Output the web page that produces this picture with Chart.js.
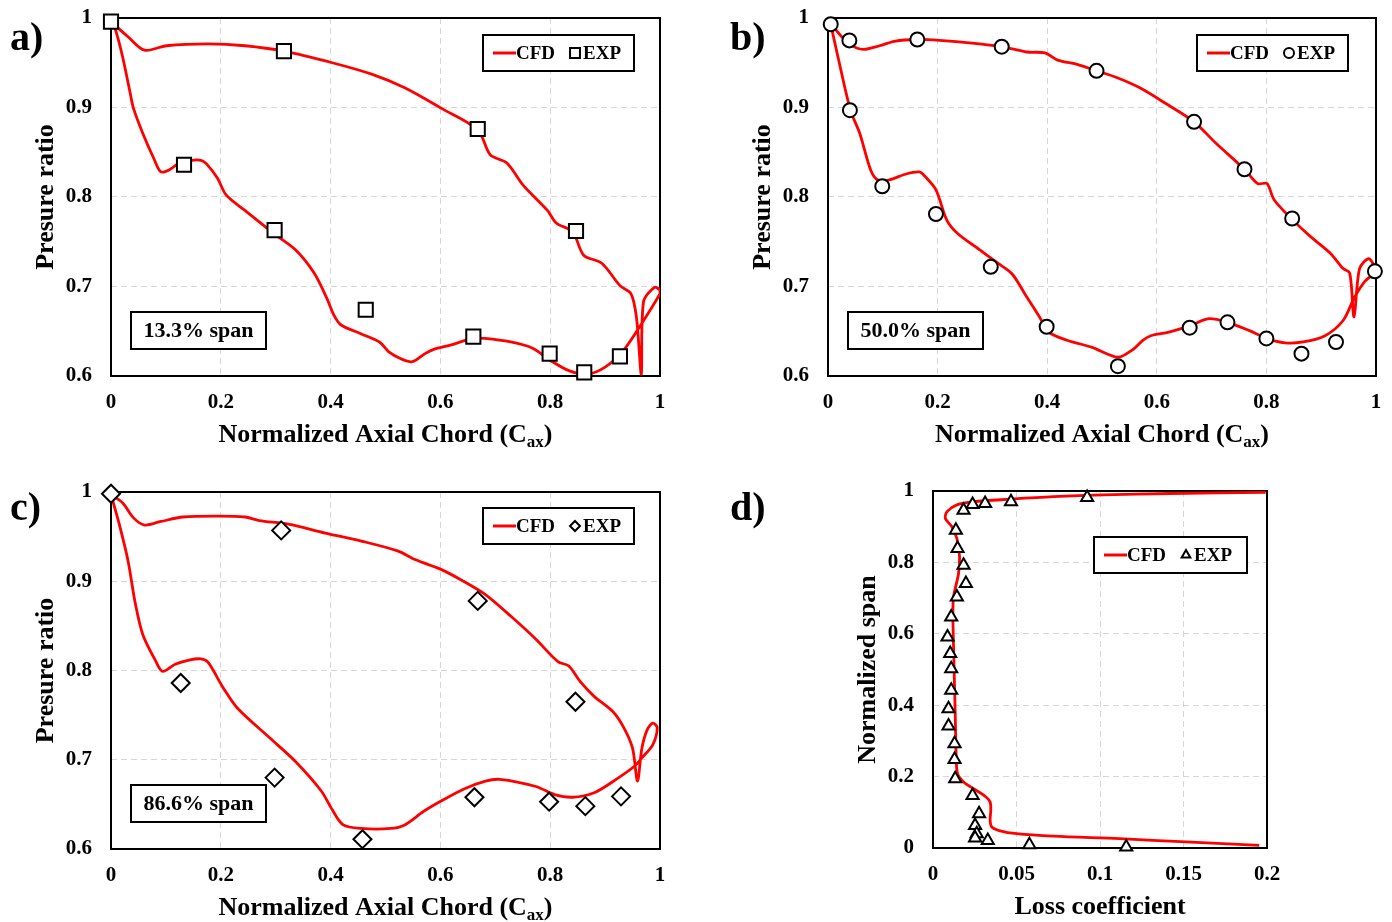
<!DOCTYPE html>
<html lang="en">
<head>
  <meta charset="UTF-8">
  <title>Blade loading and loss</title>
  <script src="https://cdn.jsdelivr.net/npm/chart.js"></script>
  <style>
    body { margin:0; background:#fff; }
    .page { position:relative; width:1392px; height:922px; overflow:hidden; }
    canvas { position:absolute; }
  </style>
</head>
<body>
  <div class="page">
    <canvas id="pa" width="696" height="461" style="left:0;top:0"></canvas>
    <canvas id="pb" width="696" height="461" style="left:696px;top:0"></canvas>
    <canvas id="pc" width="696" height="461" style="left:0;top:461px"></canvas>
    <canvas id="pd" width="696" height="461" style="left:696px;top:461px"></canvas>
  </div>

  <script>
    const FONT='"Liberation Serif", "Times New Roman", serif';

    // tick labels
    const chordTicks=[0,0.2,0.4,0.6,0.8,1];
    const ratioTicks=[0.6,0.7,0.8,0.9,1];
    const lossTicks=[0,0.05,0.1,0.15,0.2];
    const spanTicks=[0,0.2,0.4,0.6,0.8,1];

    // a) 13.3% span
    const expAx=[0,0.315,0.668,0.133,0.298,0.847,0.464,0.660,0.799,0.862,0.927];
    const expAy=[0.996,0.963,0.876,0.836,0.763,0.762,0.674,0.644,0.625,0.604,0.622];
    const cfdA_ps=[[0,0.996],[0.031,0.979],[0.061,0.964],[0.101,0.969],[0.177,0.971],[0.244,0.969],[0.315,0.963],
      [0.403,0.950],[0.476,0.937],[0.535,0.922],[0.602,0.899],[0.668,0.875],[0.691,0.847],[0.721,0.838],
      [0.751,0.813],[0.795,0.785],[0.811,0.771],[0.841,0.761],[0.861,0.735],[0.894,0.726],[0.927,0.701],
      [0.947,0.692],[0.957,0.666],[0.966,0.602],[0.970,0.683],[0.990,0.699],[1.0,0.696]];
    const cfdA_ss=[[1.0,0.692],[0.967,0.659],[0.934,0.629],[0.900,0.610],[0.867,0.602],[0.834,0.606],[0.799,0.618],
      [0.768,0.631],[0.728,0.638],[0.681,0.642],[0.660,0.642],[0.615,0.634],[0.589,0.630],[0.572,0.625],
      [0.549,0.616],[0.529,0.619],[0.506,0.627],[0.489,0.638],[0.456,0.647],[0.419,0.657],[0.406,0.668],
      [0.393,0.687],[0.370,0.715],[0.336,0.741],[0.297,0.759],[0.244,0.785],[0.210,0.802],[0.194,0.821],
      [0.174,0.837],[0.164,0.841],[0.147,0.841],[0.124,0.838],[0.108,0.831],[0.091,0.828],[0.078,0.843],
      [0.058,0.871],[0.041,0.899],[0.035,0.916],[0.021,0.957],[0.008,0.987],[0,0.996]];

    // b) 50.0% span
    const expBx=[0.005,0.039,0.163,0.317,0.490,0.040,0.668,0.760,0.099,0.847,0.197,0.297,0.998,0.399,0.660,0.729,0.800,0.927,0.864,0.529];
    const expBy=[0.993,0.975,0.976,0.968,0.941,0.897,0.884,0.831,0.812,0.776,0.781,0.722,0.717,0.655,0.654,0.660,0.642,0.638,0.625,0.611];
    const cfdB_ps=[[0.005,0.994],[0.025,0.979],[0.041,0.970],[0.064,0.965],[0.094,0.969],[0.121,0.974],[0.163,0.976],
      [0.204,0.975],[0.263,0.972],[0.317,0.968],[0.363,0.962],[0.396,0.961],[0.419,0.953],[0.456,0.948],
      [0.490,0.941],[0.529,0.933],[0.569,0.922],[0.615,0.905],[0.668,0.884],[0.708,0.860],[0.760,0.831],
      [0.784,0.815],[0.801,0.815],[0.814,0.797],[0.847,0.775],[0.880,0.756],[0.917,0.737],[0.940,0.720],
      [0.952,0.715],[0.960,0.666],[0.970,0.720],[0.987,0.731],[1.0,0.719]];
    const cfdB_ss=[[1.0,0.716],[0.980,0.706],[0.960,0.687],[0.940,0.662],[0.907,0.645],[0.867,0.638],[0.834,0.637],
      [0.800,0.642],[0.768,0.651],[0.729,0.660],[0.695,0.664],[0.660,0.656],[0.622,0.649],[0.589,0.645],
      [0.575,0.640],[0.555,0.629],[0.529,0.621],[0.482,0.632],[0.436,0.640],[0.403,0.649],[0.386,0.666],
      [0.363,0.688],[0.336,0.714],[0.310,0.726],[0.277,0.741],[0.237,0.759],[0.217,0.774],[0.197,0.808],
      [0.177,0.823],[0.167,0.828],[0.144,0.826],[0.111,0.819],[0.091,0.819],[0.078,0.830],[0.058,0.871],
      [0.041,0.897],[0.018,0.957],[0.005,0.993]];

    // c) 86.6% span
    const expCx=[0,0.310,0.668,0.127,0.846,0.298,0.662,0.798,0.864,0.929,0.458];
    const expCy=[0.998,0.957,0.878,0.786,0.765,0.680,0.658,0.653,0.648,0.659,0.611];
    const cfdC_ps=[[0,0.997],[0.021,0.988],[0.041,0.971],[0.061,0.963],[0.091,0.967],[0.131,0.972],[0.197,0.973],
      [0.244,0.972],[0.270,0.968],[0.323,0.964],[0.390,0.954],[0.456,0.945],[0.522,0.934],[0.555,0.924],
      [0.602,0.913],[0.642,0.900],[0.682,0.885],[0.728,0.861],[0.774,0.835],[0.814,0.810],[0.834,0.805],
      [0.854,0.788],[0.880,0.771],[0.914,0.754],[0.934,0.736],[0.950,0.713],[0.959,0.676],[0.967,0.713],
      [0.977,0.734],[0.987,0.741],[0.995,0.736]];
    const cfdC_ss=[[0.987,0.717],[0.967,0.702],[0.954,0.693],[0.920,0.678],[0.880,0.663],[0.841,0.658],[0.808,0.661],
      [0.774,0.670],[0.708,0.678],[0.682,0.676],[0.642,0.667],[0.602,0.654],[0.569,0.642],[0.535,0.627],
      [0.509,0.623],[0.456,0.623],[0.423,0.627],[0.403,0.644],[0.383,0.665],[0.336,0.698],[0.290,0.724],
      [0.230,0.758],[0.204,0.781],[0.177,0.809],[0.164,0.813],[0.144,0.812],[0.117,0.807],[0.094,0.799],
      [0.081,0.811],[0.058,0.840],[0.044,0.876],[0.031,0.923],[0.015,0.964],[0,0.997]];

    // d) spanwise loss
    const expDloss=[0.0923,0.0467,0.0312,0.0237,0.0183,0.0137,0.0147,0.0183,0.0197,0.0143,0.0109,0.0087,0.0103,0.0109,
      0.0109,0.0093,0.0093,0.0129,0.0129,0.0133,0.0237,0.0276,0.0252,0.0262,0.0252,0.0328,0.0577,0.1157];
    const expDspan=[0.982,0.970,0.965,0.962,0.946,0.890,0.839,0.792,0.741,0.703,0.647,0.591,0.545,0.502,
      0.442,0.390,0.342,0.292,0.248,0.194,0.147,0.096,0.063,0.040,0.028,0.021,0.009,0.003];
    const cfdD=[[0.1953,0.0075],[0.1515,0.017],[0.1117,0.026],[0.072,0.033],[0.0501,0.040],[0.0402,0.048],[0.0352,0.059],
      [0.0342,0.078],[0.0346,0.106],[0.0342,0.129],[0.0312,0.145],[0.0243,0.166],[0.0183,0.185],[0.0147,0.208],
      [0.0139,0.255],[0.0133,0.377],[0.0123,0.564],[0.0119,0.657],[0.0123,0.704],[0.0153,0.769],[0.0159,0.816],
      [0.0143,0.867],[0.0113,0.900],[0.0074,0.923],[0.0084,0.942],[0.0143,0.961],[0.0243,0.970],[0.0461,0.977],
      [0.072,0.984],[0.1018,0.989],[0.1416,0.993],[0.1992,0.996]];

    function marker(ctx,style,x,y,r){
      ctx.save();
      ctx.fillStyle="#fff"; ctx.strokeStyle="#000"; ctx.lineWidth=2;
      ctx.beginPath();
      if(style==="rect"){ const s=r*Math.SQRT1_2; ctx.rect(x-s,y-s,2*s,2*s); }
      else if(style==="circle"){ ctx.arc(x,y,r,0,Math.PI*2); }
      else if(style==="rectRot"){ ctx.moveTo(x,y-r); ctx.lineTo(x+r,y); ctx.lineTo(x,y+r); ctx.lineTo(x-r,y); ctx.closePath(); }
      else { for(let k=0;k<3;k++){ const t=k*2*Math.PI/3; ctx[k?"lineTo":"moveTo"](x+Math.sin(t)*r,y-Math.cos(t)*r); } ctx.closePath(); }
      ctx.fill(); ctx.stroke();
      ctx.restore();
    }

    // frame, panel letter, x title, legend box, span box
    const deco={
      id:"deco",
      beforeDatasetsDraw(chart,args,o){
        const {ctx,chartArea:a}=chart;
        ctx.save(); ctx.strokeStyle="#000"; ctx.lineWidth=2;
        ctx.strokeRect(a.left,a.top,a.right-a.left,a.bottom-a.top);
        ctx.restore();
      },
      afterDraw(chart,args,o){
        const {ctx,chartArea:a}=chart;
        ctx.save();
        ctx.fillStyle="#000"; ctx.textBaseline="middle"; ctx.textAlign="left";
        // panel letter
        ctx.font="bold 40px "+FONT;
        ctx.fillText(o.letter,o.letterX,o.letterY);
        // x title (with optional subscript)
        const big="bold 26px "+FONT, small="bold 17px "+FONT;
        const ty=a.bottom+59;
        ctx.font=big; const w1=ctx.measureText(o.xTitle).width;
        let w2=0,w3=0;
        if(o.xSub){ ctx.font=small; w2=ctx.measureText(o.xSub).width; ctx.font=big; w3=ctx.measureText(")").width; }
        let x=(a.left+a.right)/2-(w1+w2+w3)/2;
        ctx.font=big; ctx.fillText(o.xTitle,x,ty); x+=w1;
        if(o.xSub){ ctx.font=small; ctx.fillText(o.xSub,x,ty+8); x+=w2; ctx.font=big; ctx.fillText(")",x,ty); }
        // legend
        const L=o.legend, lx=a.right-L.right-L.w, ly=a.top+L.top, cy=ly+L.h/2;
        ctx.fillStyle="#fff"; ctx.fillRect(lx,ly,L.w,L.h);
        ctx.strokeStyle="#000"; ctx.lineWidth=2; ctx.strokeRect(lx,ly,L.w,L.h);
        ctx.strokeStyle="#ff0000"; ctx.lineWidth=3;
        ctx.beginPath(); ctx.moveTo(lx+10,cy); ctx.lineTo(lx+33,cy); ctx.stroke();
        ctx.fillStyle="#000"; ctx.font="bold 19px "+FONT;
        ctx.fillText("CFD",lx+33,cy+1);
        marker(ctx,o.marker,lx+92,cy,o.marker==="rect"?7:5);
        ctx.fillStyle="#000";
        ctx.fillText("EXP",lx+100,cy+1);
        // span label
        if(o.span){
          const bx=a.left+20, by=a.bottom-64, bw=135, bh=37;
          ctx.fillStyle="#fff"; ctx.fillRect(bx,by,bw,bh);
          ctx.strokeStyle="#000"; ctx.lineWidth=2; ctx.strokeRect(bx,by,bw,bh);
          ctx.fillStyle="#000"; ctx.font="bold 22px "+FONT; ctx.textAlign="center";
          ctx.fillText(o.span,bx+bw/2,by+bh/2+1);
        }
        ctx.restore();
      }
    };

    function fmt(v){ return String(+v.toFixed(3)); }

    function axis(ticks,min,max,title,isY){
      const ax={
        type:"linear", min, max,
        afterBuildTicks:s=>{ s.ticks=ticks.map(v=>({value:v})); },
        grid:{color:"#d6d6d6",lineWidth:1,drawTicks:false},
        border:{display:false,dash:[6,4]},
        ticks:{color:"#000",padding:isY?19:14,font:{family:FONT,size:21,weight:"bold"},callback:fmt}
      };
      if(isY){
        ax.afterFit=s=>{ s.width=100; s.paddingTop=0; s.paddingBottom=0; };
        ax.title={display:true,text:title,color:"#000",padding:{top:20,bottom:0},
          font:{family:FONT,size:26,weight:"bold",lineHeight:1.2}};
      }else{
        ax.afterFit=s=>{ s.height=60; s.paddingLeft=0; s.paddingRight=0; };
      }
      return ax;
    }

    function panel(id,p){
      const line=p.cfd.map(q=>({x:q[0],y:q[1]}));
      const pts=p.expX.map((x,i)=>({x,y:p.expY[i]}));
      return new Chart(document.getElementById(id),{
        type:"scatter",
        data:{datasets:[
          {label:"CFD",data:line,showLine:true,borderColor:"#ff0000",borderWidth:2.8,
           pointRadius:0,tension:p.tension,fill:false,order:2},
          {label:"EXP",data:pts,pointStyle:p.marker,pointRadius:p.r,pointBackgroundColor:"#fff",
           pointBorderColor:"#000",pointBorderWidth:2,showLine:false,clip:false,order:1}
        ]},
        options:{
          responsive:false, animation:false, events:[],
          layout:{padding:p.pad},
          plugins:{legend:{display:false},tooltip:{enabled:false},deco:p.deco},
          scales:{x:axis(p.xTicks,p.xMin,p.xMax,"",false),y:axis(p.yTicks,p.yMin,p.yMax,p.yTitle,true)}
        },
        plugins:[deco]
      });
    }

    const chordTitle="Normalized Axial Chord (C";

    panel("pa",{cfd:cfdA_ps.concat(cfdA_ss),expX:expAx,expY:expAy,marker:"rect",r:10,tension:0.3,
      xTicks:chordTicks,xMin:0,xMax:1,yTicks:ratioTicks,yMin:0.6,yMax:1,yTitle:"Presure ratio",
      pad:{left:11,top:18,right:36,bottom:25},
      deco:{letter:"a)",letterX:10,letterY:40,xTitle:chordTitle,xSub:"ax",marker:"rect",span:"13.3% span",
        legend:{w:151,h:36,right:26,top:17}}});

    panel("pb",{cfd:cfdB_ps.concat(cfdB_ss),expX:expBx,expY:expBy,marker:"circle",r:7,tension:0.3,
      xTicks:chordTicks,xMin:0,xMax:1,yTicks:ratioTicks,yMin:0.6,yMax:1,yTitle:"Presure ratio",
      pad:{left:32,top:18,right:16,bottom:25},
      deco:{letter:"b)",letterX:34,letterY:40,xTitle:chordTitle,xSub:"ax",marker:"circle",span:"50.0% span",
        legend:{w:151,h:36,right:28,top:17}}});

    panel("pc",{cfd:cfdC_ps.concat(cfdC_ss),expX:expCx,expY:expCy,marker:"rectRot",r:9,tension:0.3,
      xTicks:chordTicks,xMin:0,xMax:1,yTicks:ratioTicks,yMin:0.6,yMax:1,yTitle:"Presure ratio",
      pad:{left:11,top:31,right:36,bottom:13},
      deco:{letter:"c)",letterX:10,letterY:49,xTitle:chordTitle,xSub:"ax",marker:"rectRot",span:"86.6% span",
        legend:{w:151,h:36,right:26,top:16}}});

    panel("pd",{cfd:cfdD,expX:expDloss,expY:expDspan,marker:"triangle",r:7,tension:0.3,
      xTicks:lossTicks,xMin:0,xMax:0.2,yTicks:spanTicks,yMin:0,yMax:1,yTitle:"Normalized span",
      pad:{left:137,top:30,right:125,bottom:14},
      deco:{letter:"d)",letterX:34,letterY:49,xTitle:"Loss coefficient",xSub:"",marker:"triangle",span:"",
        legend:{w:153,h:36,right:20,top:46}}});
  </script>
</body>
</html>
